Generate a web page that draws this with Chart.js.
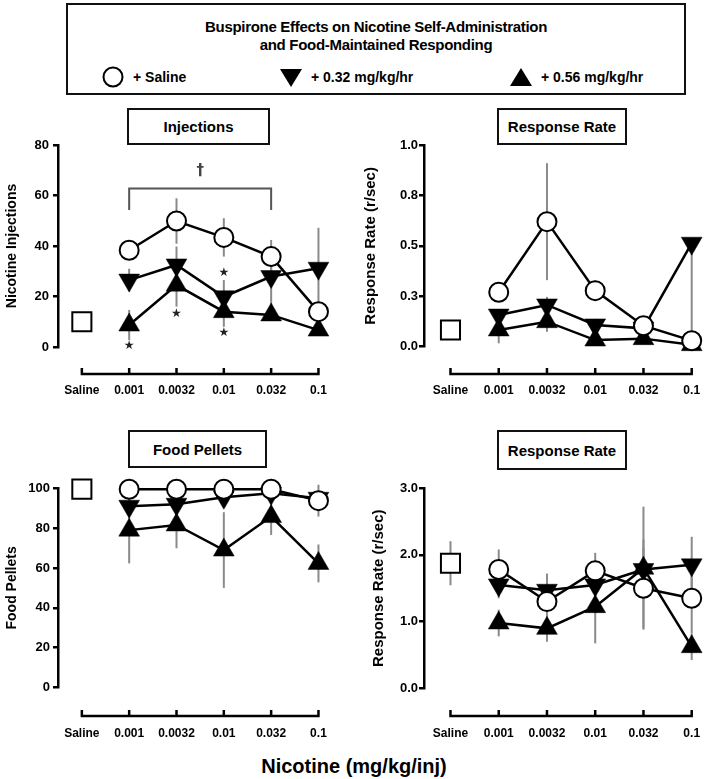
<!DOCTYPE html>
<html><head><meta charset="utf-8">
<script src="https://cdn.jsdelivr.net/npm/chart.js@4.4.1/dist/chart.umd.min.js"></script>
<style>
html,body{margin:0;padding:0;background:#fff;overflow:hidden;width:708px;height:779px;}
body{position:relative;font-family:"Liberation Sans",Arial,sans-serif;color:#000;}
canvas{position:absolute;}
.box{position:absolute;border:2px solid #111;box-sizing:border-box;display:flex;align-items:center;justify-content:center;font-weight:bold;font-size:15px;}
#legend{position:absolute;left:66px;top:3px;width:620px;height:92px;border:2px solid #111;box-sizing:border-box;}
#legend .t{position:absolute;left:0;right:0;top:13px;text-align:center;font-weight:bold;font-size:15px;line-height:18px;letter-spacing:-0.3px;}
.li{position:absolute;top:58px;height:28px;display:flex;align-items:center;font-weight:bold;font-size:14px;}
.li svg{margin-right:8px;}
#xtitle{position:absolute;left:154px;width:400px;top:754px;line-height:24px;text-align:center;font-weight:bold;font-size:20px;}
</style></head>
<body>
<div id="legend">
  <div class="t">Buspirone Effects on Nicotine Self-Administration<br>and Food-Maintained Responding</div>
  <div class="li" style="left:33px"><svg width="24" height="24"><circle cx="12" cy="12" r="9.5" fill="#fff" stroke="#000" stroke-width="2"/></svg>+ Saline</div>
  <div class="li" style="left:211px"><svg width="24" height="24"><polygon points="1,4 23,4 12,22" fill="#000"/></svg>+ 0.32 mg/kg/hr</div>
  <div class="li" style="left:441px"><svg width="24" height="24"><polygon points="1,21 23,21 12,3" fill="#000"/></svg>+ 0.56 mg/kg/hr</div>
</div>
<div class="box" style="left:127px;top:108px;width:143px;height:37px;">Injections</div>
<div class="box" style="left:497px;top:108px;width:130px;height:37px;">Response Rate</div>
<div class="box" style="left:128px;top:430px;width:139px;height:38px;">Food Pellets</div>
<div class="box" style="left:497px;top:430px;width:130px;height:40px;">Response Rate</div>
<canvas id="tl" width="354" height="300" style="left:0;top:100px"></canvas>
<canvas id="tr" width="364" height="300" style="left:354px;top:100px"></canvas>
<canvas id="bl" width="354" height="350" style="left:0;top:400px"></canvas>
<canvas id="br" width="364" height="350" style="left:354px;top:400px"></canvas>
<div id="xtitle">Nicotine (mg/kg/inj)</div>
<script>
// ---- categories ----
const doseLabels = ['Saline', '0.001', '0.0032', '0.01', '0.032', '0.1'];
const dosePos = [1, 2, 3, 4, 5];
const vehiclePos = [0];
const axisPos = [0, 1, 2, 3, 4, 5];

// ---- Nicotine injections ----
const injSaline = [38.3, 49.9, 43.4, 35.8, 14.0];
const injSalineErr = [2.5, 9.0, 7.6, 6.6, 3.0];
const inj032 = [26.5, 32.5, 19.9, 27.9, 31.2];
const inj032Err = [4.5, 7.3, 6.6, 11.3, 16.0];
const inj056 = [8.7, 24.5, 14.0, 12.7, 6.7];
const inj056Err = [6.0, 8.5, 6.0, 2.0, 2.0];
const injVehicle = [10.0];
const injVehicleErr = [1.5];
const injTicks = [0, 20, 40, 60, 80];
const injTickLabels = ['0', '20', '40', '60', '80'];
// significance marks (dose position, value)
const starX = [1, 2, 3, 3];
const starY = [0.3, 13.0, 29.3, 5.4];
const daggerX = [2.5];
const daggerY = [69.5];
const bracketX = [1, 4];
const bracketY = [62.8, 54.3];

// ---- Nicotine response rate ----
const rrNicSaline = [0.27, 0.62, 0.278, 0.104, 0.03];
const rrNicSalineErr = [0.03, 0.29, 0.05, 0.02, 0.02];
const rrNic032 = [0.157, 0.207, 0.108, 0.091, 0.513];
const rrNic032Err = [0.03, 0.04, 0.03, 0.02, 0.48];
const rrNic032ErrUp = [0.03, 0.04, 0.03, 0.02, 0.0];
const rrNic056 = [0.083, 0.124, 0.033, 0.04, 0.01];
const rrNic056Err = [0.066, 0.05, 0.02, 0.02, 0.01];
const rrNicVehicle = [0.083];
const rrNicVehicleErr = [0.01];
const rrNicTicks = [0, 0.25, 0.5, 0.75, 1.0];
const rrNicTickLabels = ['0.0', '0.3', '0.5', '0.8', '1.0'];

// ---- Food pellets ----
const foodSaline = [99.5, 99.5, 99.5, 99.5, 93.8];
const foodSalineErr = [0.5, 0.5, 0.5, 0.5, 8.0];
const food032 = [91.0, 92.0, 95.5, 97.5, 95.0];
const food032Err = [5.0, 4.0, 3.0, 2.0, 2.0];
const food056 = [79.0, 81.6, 69.0, 85.8, 62.3];
const food056Err = [16.7, 11.7, 19.0, 9.2, 9.5];
const foodVehicle = [99.6];
const foodVehicleErr = [0.5];
const foodTicks = [0, 20, 40, 60, 80, 100];
const foodTickLabels = ['0', '20', '40', '60', '80', '100'];

// ---- Food response rate ----
const rrFoodSaline = [1.78, 1.30, 1.76, 1.50, 1.35];
const rrFoodSalineErr = [0.30, 0.27, 0.27, 0.60, 0.52];
const rrFood032 = [1.55, 1.47, 1.55, 1.78, 1.85];
const rrFood032Err = [0.20, 0.25, 0.20, 0.45, 0.42];
const rrFood056 = [0.98, 0.90, 1.225, 1.80, 0.626];
const rrFood056Err = [0.20, 0.20, 0.55, 0.92, 0.20];
const rrFoodVehicle = [1.874];
const rrFoodVehicleErr = [0.33];
const rrFoodTicks = [0, 1, 2, 3];
const rrFoodTickLabels = ['0.0', '1.0', '2.0', '3.0'];

const decorPlugin = {
  id: 'decor',
  beforeDatasetsDraw(chart, args, o) {
    const {ctx, scales: {x, y}} = chart;
    ctx.save();
    ctx.strokeStyle = '#8a8a8a';
    ctx.lineWidth = 2;
    o.errors.forEach(s => {
      s.xs.forEach((xv, i) => {
        const v = s.vals[i], e = s.errs[i];
        const eu = s.up ? s.up[i] : e;
        if (!e && !eu) return;
        const px = x.getPixelForValue(xv);
        ctx.beginPath();
        ctx.moveTo(px, y.getPixelForValue(v - e));
        ctx.lineTo(px, y.getPixelForValue(v + eu));
        ctx.stroke();
      });
    });
    if (o.marks) {
      ctx.strokeStyle = '#555';
      ctx.lineWidth = 2;
      const bx0 = x.getPixelForValue(bracketX[0]), bx1 = x.getPixelForValue(bracketX[1]);
      const by0 = y.getPixelForValue(bracketY[0]), by1 = y.getPixelForValue(bracketY[1]);
      ctx.beginPath();
      ctx.moveTo(bx0, by1); ctx.lineTo(bx0, by0); ctx.lineTo(bx1, by0); ctx.lineTo(bx1, by1);
      ctx.stroke();
      ctx.fillStyle = '#444';
      ctx.textAlign = 'center';
      ctx.textBaseline = 'middle';
      ctx.font = 'bold 15px "DejaVu Sans", sans-serif';
      daggerX.forEach((dx, i) => ctx.fillText('\u2020', x.getPixelForValue(dx), y.getPixelForValue(daggerY[i])));
      ctx.fillStyle = '#222';
      ctx.font = '12px "DejaVu Sans", sans-serif';
      starX.forEach((sx, i) => ctx.fillText('\u2605', x.getPixelForValue(sx), y.getPixelForValue(starY[i])));
    }
    ctx.restore();
  },
  afterDraw(chart, args, o) {
    const {ctx, chartArea, scales: {x}} = chart;
    const yl = chartArea.bottom + o.axisGap;
    ctx.save();
    ctx.strokeStyle = '#000';
    ctx.lineWidth = 2.5;
    ctx.beginPath();
    ctx.moveTo(x.getPixelForValue(axisPos[0]) - 1.2, yl);
    ctx.lineTo(x.getPixelForValue(axisPos[axisPos.length - 1]) + 1.2, yl);
    axisPos.forEach(p => {
      const px = x.getPixelForValue(p);
      ctx.moveTo(px, yl);
      ctx.lineTo(px, yl - 6);
    });
    ctx.stroke();
    ctx.restore();
  }
};

function makePanel(c) {
  const canvas = document.getElementById(c.id);
  const xmin = (c.areaL - c.x0) / c.step;
  const xmax = (c.areaR - c.x0) / c.step;
  const pts = (xs, ys) => xs.map((xv, i) => ({x: xv, y: ys[i]}));
  const common = {borderColor: '#000', borderWidth: 2.5, showLine: true, clip: false,
                  pointBorderColor: '#000', pointBorderWidth: 2, pointHoverRadius: 0};
  new Chart(canvas, {
    type: 'scatter',
    data: {datasets: [
      Object.assign({label: '+ Saline', data: pts(dosePos, c.s0), pointStyle: 'circle', pointRadius: 9.5,
                     pointBackgroundColor: '#fff'}, common),
      Object.assign({label: '+ 0.32 mg/kg/hr', data: pts(dosePos, c.s1), pointStyle: 'triangle', pointRotation: 180,
                     pointRadius: 12, pointBackgroundColor: '#000'}, common, {pointBorderWidth: 0.5}),
      Object.assign({label: '+ 0.56 mg/kg/hr', data: pts(dosePos, c.s2), pointStyle: 'triangle', pointRadius: 12,
                     pointBackgroundColor: '#000'}, common, {pointBorderWidth: 0.5}),
      Object.assign({label: 'Saline', data: pts(vehiclePos, c.v), pointStyle: 'rect', pointRadius: 13.5,
                     pointBackgroundColor: '#fff'}, common, {showLine: false})
    ]},
    options: {
      responsive: false, animation: false, events: [],
      layout: {padding: {left: 0, top: c.areaT, right: canvas.width - c.areaR, bottom: 0}},
      plugins: {
        legend: {display: false}, tooltip: {enabled: false},
        decor: {axisGap: c.gap, marks: !!c.marks, errors: [
          {xs: dosePos, vals: c.s0, errs: c.e0},
          {xs: dosePos, vals: c.s1, errs: c.e1, up: c.e1u},
          {xs: dosePos, vals: c.s2, errs: c.e2},
          {xs: vehiclePos, vals: c.v, errs: c.ve}
        ]}
      },
      scales: {
        x: {
          type: 'linear', min: xmin, max: xmax,
          afterBuildTicks: s => { s.ticks = axisPos.map(v => ({value: v})); },
          afterFit: s => { s.height = canvas.height - c.areaB; },
          grid: {display: false, drawTicks: true, tickLength: c.gap + c.lab},
          border: {display: false},
          ticks: {padding: 0, color: '#000', maxRotation: 0, autoSkip: false,
                  font: {family: '"Liberation Sans Narrow","Liberation Sans",sans-serif', size: 12, weight: 'bold'},
                  callback: (v) => doseLabels[Math.round(v)]}
        },
        y: {
          min: c.ymin, max: c.ymax,
          afterBuildTicks: s => { s.ticks = c.ticks.map(v => ({value: v})); },
          afterFit: s => { s.width = c.areaL; },
          grid: {display: true, drawOnChartArea: false, drawTicks: true, tickLength: 5, color: '#000', lineWidth: 2.5},
          border: {display: true, color: '#000', width: 2.5},
          ticks: {padding: c.tpad, color: '#000', font: {family: '"Liberation Sans",sans-serif', size: 13, weight: 'bold'},
                  callback: (v, i) => c.tickLabels[i]},
          title: {display: true, text: c.title, color: '#000', padding: {top: c.titlePad, bottom: 0},
                  font: {family: '"Liberation Sans",sans-serif', size: c.titleSize, weight: 'bold'}}
        }
      }
    },
    plugins: [decorPlugin]
  });
}

makePanel({id: 'tl', areaL: 58, areaR: 352, areaT: 45, areaB: 247, x0: 83, step: 49.6, gap: 27, lab: 9,
  ymin: 0, ymax: 80, ticks: injTicks, tickLabels: injTickLabels, tpad: 4,
  title: 'Nicotine Injections', titlePad: 3.6, titleSize: 14, marks: true,
  s0: injSaline, e0: injSalineErr, s1: inj032, e1: inj032Err, s2: inj056, e2: inj056Err, v: injVehicle, ve: injVehicleErr});
makePanel({id: 'tr', areaL: 70, areaR: 354, areaT: 45, areaB: 246.7, x0: 97, step: 49.2, gap: 27.3, lab: 9,
  ymin: 0, ymax: 1, ticks: rrNicTicks, tickLabels: rrNicTickLabels, tpad: 1,
  title: 'Response Rate (r/sec)', titlePad: 8.2, titleSize: 15,
  s0: rrNicSaline, e0: rrNicSalineErr, s1: rrNic032, e1: rrNic032Err, e1u: rrNic032ErrUp, s2: rrNic056, e2: rrNic056Err, v: rrNicVehicle, ve: rrNicVehicleErr});
makePanel({id: 'bl', areaL: 58, areaR: 352, areaT: 88.3, areaB: 287.5, x0: 83, step: 49.6, gap: 28.5, lab: 10,
  ymin: 0, ymax: 100, ticks: foodTicks, tickLabels: foodTickLabels, tpad: 3,
  title: 'Food Pellets', titlePad: 3.6, titleSize: 14,
  s0: foodSaline, e0: foodSalineErr, s1: food032, e1: food032Err, s2: food056, e2: food056Err, v: foodVehicle, ve: foodVehicleErr});
makePanel({id: 'br', areaL: 70, areaR: 354, areaT: 88, areaB: 288.5, x0: 97, step: 49.2, gap: 27.5, lab: 10,
  ymin: 0, ymax: 3, ticks: rrFoodTicks, tickLabels: rrFoodTickLabels, tpad: 1,
  title: 'Response Rate (r/sec)', titlePad: 16, titleSize: 15,
  s0: rrFoodSaline, e0: rrFoodSalineErr, s1: rrFood032, e1: rrFood032Err, s2: rrFood056, e2: rrFood056Err, v: rrFoodVehicle, ve: rrFoodVehicleErr});
</script>
</body></html>
